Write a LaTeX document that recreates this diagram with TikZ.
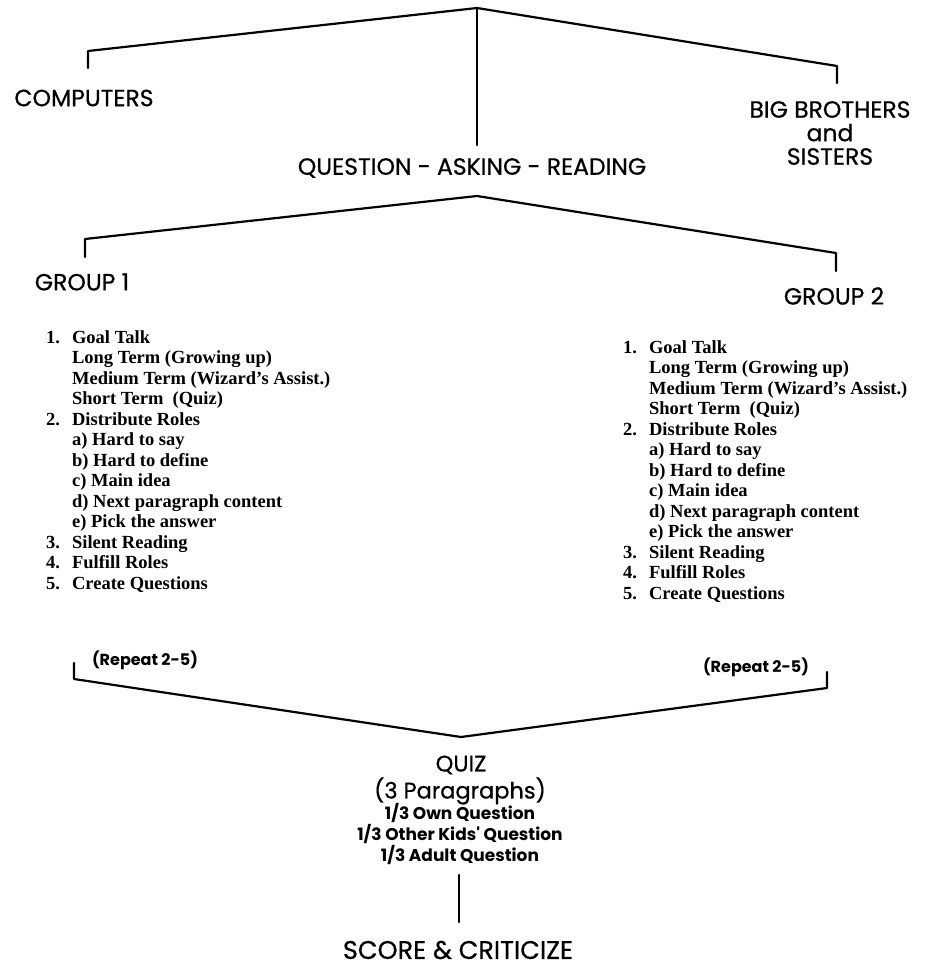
\documentclass[tikz,border=0pt]{standalone}
\usepackage{fontspec}
\setmainfont{Liberation Serif}
\newfontfamily\geo{Poppins}[FakeBold=0.6]
\newfontfamily\geob{Poppins}
\newcommand{\steplist}{%
 \fontsize{18.5}{20.5}\selectfont\bfseries
 \begin{tabular}[t]{@{}p{26pt}@{}l@{}}
 1. & Goal Talk\\
    & Long Term (Growing up)\\
    & Medium Term (Wizard's Assist.)\\
    & Short Term\ \ (Quiz)\\
 2. & Distribute Roles\\
    & a) Hard to say\\
    & b) Hard to define\\
    & c) Main idea\\
    & d) Next paragraph content\\
    & e) Pick the answer\\
 3. & Silent Reading\\
 4. & Fulfill Roles\\
 5. & Create Questions
 \end{tabular}}
\begin{document}
\begin{tikzpicture}[x=1pt,y=-1pt,line width=2.2pt,line join=round,line cap=round,
  lbl/.style={font=\geo\fontsize{23.5}{23.5}\selectfont,inner sep=0pt,align=center},
  mid/.style={font=\geo\fontsize{22.5}{24}\selectfont,inner sep=0pt},
  rep/.style={font=\geob\bfseries\fontsize{16}{18}\selectfont,inner sep=0pt},
  sub/.style={font=\geob\bfseries\fontsize{17}{19}\selectfont,inner sep=0pt},
  big/.style={font=\geo\fontsize{25.5}{27}\selectfont,inner sep=0pt},
  lst/.style={anchor=base west,inner sep=0pt}]
\useasboundingbox (0,0) rectangle (926,970);
\fill[white] (0,0) rectangle (926,970);
% texts
\node[lbl] (comp) at (84,98) {COMPUTERS};
\node[lbl] (bbs) at (830,133) {BIG BROTHERS\\and\\SISTERS};
\node[lbl] (qar) at (472,168) {QUESTION - ASKING - READING};
\node[lbl] (g1) at (82,282) {GROUP 1};
\node[lbl] (g2) at (834,296) {GROUP 2};
\node[lst] (list1) at (45,343) {\steplist};
\node[lst] (list2) at (622,353) {\steplist};
\node[rep] (r1) at (145,660) {(Repeat 2-5)};
\node[rep] (r2) at (756,667) {(Repeat 2-5)};
\node[mid] (quiz) at (461,765) {QUIZ};
\node[mid] (para) at (460,791) {(3 Paragraphs)};
\node[sub] (q1) at (460,813) {1/3 Own Question};
\node[sub] (q2) at (460,834) {1/3 Other Kids' Question};
\node[sub] (q3) at (460,855) {1/3 Adult Question};
\node[big] (score) at (458,950) {SCORE \& CRITICIZE};
% bracket points
\coordinate (t0) at (477,8);
\coordinate (tl) at (88,51);  \coordinate (tlb) at (88,68);
\coordinate (tr) at (837,66); \coordinate (trb) at (837,83);
\coordinate (tv) at (477,145);
\coordinate (m0) at (477,196);
\coordinate (ml) at (85,239); \coordinate (mlb) at (85,257);
\coordinate (mr) at (836,253); \coordinate (mrb) at (836,271);
\coordinate (b0) at (461,737);
\coordinate (bl) at (74,679); \coordinate (blt) at (74,663);
\coordinate (br) at (827,688); \coordinate (brt) at (827,672);
\coordinate (vt) at (459,875); \coordinate (vb) at (459,922);
% connectors
\draw (tlb) -- (tl) -- (t0) -- (tr) -- (trb);
\draw (t0) -- (tv);
\draw (mlb) -- (ml) -- (m0) -- (mr) -- (mrb);
\draw (blt) -- (bl) -- (b0) -- (br) -- (brt);
\draw (vt) -- (vb);
\end{tikzpicture}
\end{document}
